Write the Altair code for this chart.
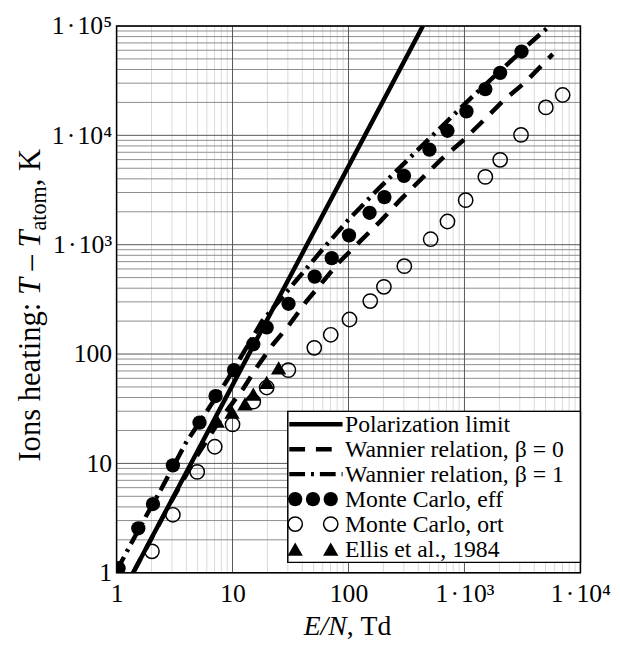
import altair as alt
import pandas as pd

# ------------------------------------------------------------------
# Values
# ------------------------------------------------------------------
polar_x = [1.39, 10, 100, 438]
polar_y = [1.0, 52, 5200, 100000]

wan0_x = [1.39, 3.0, 5.0, 8.0, 12.4, 16.2, 22.4, 30.1, 43, 82.6, 122, 187,
          277, 410, 627, 975, 1466, 2168, 3318, 5780]
wan0_y = [1.0, 4.6, 12.0, 26, 48.4, 75.7, 123, 179, 300, 687, 1038, 1626,
          2541, 3840, 6000, 9000, 13750, 20800, 30350, 55300]

wan1_x = [1.0, 1.26, 1.73, 2.43, 3.97, 5.87, 8.98, 18, 35.4, 59.7, 99.4, 175,
          322, 1057, 3540, 5410]
wan1_y = [1.04, 1.65, 3.07, 5.83, 15.5, 28.9, 57.5, 200, 470, 904, 1680, 3125,
          5930, 20370, 67100, 100000]

mc_eff_x = [1.04, 1.54, 2.06, 3.06, 5.19, 7.14, 10.3, 15.1, 19.7, 30.4, 51.1,
            71.7, 101, 152, 204, 301, 499, 714, 1040, 1514, 2032, 3105]
mc_eff_y = [1.1, 2.55, 4.25, 9.6, 23.6, 41.3, 71.4, 123, 175, 288, 511, 754,
            1217, 1958, 2725, 4260, 7390, 11020, 16560, 26480, 37300, 58400]

mc_ort_x = [2.02, 3.06, 4.96, 7.03, 10.0, 15.1, 19.7, 30.3, 50.7, 70.3, 102,
            154, 202, 303, 511, 714, 1024, 1514, 2032, 3074, 5035, 7030]
mc_ort_y = [1.57, 3.39, 8.36, 14.2, 22.7, 36.7, 49.4, 71.3, 114, 150, 207, 305,
            412, 636, 1122, 1629, 2552, 4170, 5975, 10090, 17990, 23390]

ellis_x = [7.38, 9.9, 12.8, 15.1, 19.7, 25.0]
ellis_y = [24.3, 29.4, 35.0, 42.9, 55.2, 74.9]

HS = "\u200a"  # hair space around the multiplication dot
x_ticks = [1, 10, 100, 1000, 10000]
x_tick_labels = ["1", "10", "100", f"1{HS}·{HS}10³", f"1{HS}·{HS}10⁴"]
y_ticks = [1, 10, 100, 1000, 10000, 100000]
y_tick_labels = ["1", "10", "100", f"1{HS}·{HS}10³", f"1{HS}·{HS}10⁴", f"1{HS}·{HS}10⁵"]

legend_labels = ["Polarization limit", "Wannier relation, β = 0",
                 "Wannier relation, β = 1", "Monte Carlo, eff",
                 "Monte Carlo, ort", "Ellis et al., 1984"]

# ------------------------------------------------------------------
LEFT, TOP = 110, 14            # padding -> plot origin on page at (118, 22)
OX, OY = 8 + LEFT, 8 + TOP
W, H = 470, 554
FONT = "Liberation Serif"
LABEL_FS = 26
YTITLE_FS = 31
XTITLE_FS = 28
LEG_FS = 24
LW = 4.5
DASH = [16, 11]
DASHDOT = [16, 6, 3, 6]
CIRCLE_SIZE = 210
TRI_SIZE = 240

xs = alt.Scale(type="log", domain=[1, 10000], nice=False)
ys = alt.Scale(type="log", domain=[1, 100000], nice=False)


def label_expr(vals, labs):
    return "".join(f"datum.value == {v} ? '{l}' : " for v, l in zip(vals, labs)) + "''"


xaxis = alt.Axis(values=x_ticks, labelExpr=label_expr(x_ticks, x_tick_labels),
                 grid=False, ticks=False, domain=False, title=None,
                 labelFont=FONT, labelFontSize=LABEL_FS, labelColor="black",
                 labelPadding=8, labelFlush=False, labelOverlap=False)
yaxis = alt.Axis(values=y_ticks, labelExpr=label_expr(y_ticks, y_tick_labels),
                 grid=False, ticks=False, domain=False, title=None,
                 labelFont=FONT, labelFontSize=LABEL_FS, labelColor="black",
                 labelPadding=5, labelFlush=False, labelOverlap=False)

X = lambda f: alt.X(f"{f}:Q", scale=xs, axis=xaxis)
Y = lambda f: alt.Y(f"{f}:Q", scale=ys, axis=yaxis)

# grid positions
x_major = x_ticks
x_minor = [k * 10 ** d for d in range(0, 4) for k in range(2, 10)]
y_major = y_ticks
y_minor = [k * 10 ** d for d in range(0, 5) for k in range(2, 10)]

layers = []
layers.append(alt.Chart(pd.DataFrame({"v": x_minor})).mark_rule(
    color="#d9d9d9", strokeWidth=1).encode(x=X("v")))
layers.append(alt.Chart(pd.DataFrame({"v": y_minor})).mark_rule(
    color="#8c8c8c", strokeWidth=1).encode(y=Y("v")))
layers.append(alt.Chart(pd.DataFrame({"v": x_major})).mark_rule(
    color="#555555", strokeWidth=1).encode(x=X("v")))
layers.append(alt.Chart(pd.DataFrame({"v": y_major})).mark_rule(
    color="#555555", strokeWidth=1).encode(y=Y("v")))

dummy = pd.DataFrame({"a": [0]})
layers.append(alt.Chart(dummy).mark_rect(fill=None, stroke="black", strokeWidth=1.5).encode(
    x=alt.value(0), x2=alt.value(W), y=alt.value(0), y2=alt.value(H)))


def line(xv, yv, dash=None):
    kw = dict(color="black", strokeWidth=LW, clip=True)
    if dash:
        kw["strokeDash"] = dash
    return alt.Chart(pd.DataFrame({"x": xv, "y": yv})).mark_line(**kw).encode(
        x=X("x"), y=Y("y"), order=alt.Order("x:Q"))


layers.append(line(polar_x, polar_y))
layers.append(line(wan0_x, wan0_y, DASH))
layers.append(line(wan1_x, wan1_y, DASHDOT))

layers.append(alt.Chart(pd.DataFrame({"x": mc_ort_x, "y": mc_ort_y})).mark_point(
    shape="circle", filled=False, color="black", size=CIRCLE_SIZE, strokeWidth=1.5,
    clip=True, opacity=1).encode(x=X("x"), y=Y("y")))
layers.append(alt.Chart(pd.DataFrame({"x": ellis_x, "y": ellis_y})).mark_point(
    shape="triangle-up", filled=True, color="black", size=TRI_SIZE,
    clip=True, opacity=1).encode(x=X("x"), y=Y("y")))
layers.append(alt.Chart(pd.DataFrame({"x": mc_eff_x, "y": mc_eff_y})).mark_point(
    shape="circle", filled=True, color="black", size=CIRCLE_SIZE,
    clip=True, opacity=1).encode(x=X("x"), y=Y("y")))

# ---------------- legend (drawn by hand, page coords -> plot coords) ----------------
LX0, LX1, LY0, LY1 = 291.5 - OX, W, 412.5 - OY, 565.5 - OY
ROW0, ROWSTEP = 425.5 - OY, 25.3
SX0, SX1 = 293 - OX, 347 - OX
TX = 349.5 - OX
rows = [ROW0 + ROWSTEP * i for i in range(6)]

layers.append(alt.Chart(dummy).mark_rect(fill="white", stroke="black", strokeWidth=1.5).encode(
    x=alt.value(LX0), x2=alt.value(LX1), y=alt.value(LY0), y2=alt.value(LY1)))
for i, dash in enumerate([None, DASH, DASHDOT]):
    kw = dict(color="black", strokeWidth=LW)
    if dash:
        kw["strokeDash"] = dash
    layers.append(alt.Chart(dummy).mark_rule(**kw).encode(
        x=alt.value(SX0), x2=alt.value(SX1), y=alt.value(rows[i])))
sym_specs = [
    (3, [299, 317, 335], dict(shape="circle", filled=True, size=CIRCLE_SIZE)),
    (4, [299, 335], dict(shape="circle", filled=False, size=CIRCLE_SIZE, strokeWidth=1.5)),
    (5, [299, 335], dict(shape="triangle-up", filled=True, size=TRI_SIZE)),
]
for r, xsym, kw in sym_specs:
    for xv in xsym:
        layers.append(alt.Chart(dummy).mark_point(color="black", opacity=1, **kw).encode(
            x=alt.value(xv - OX), y=alt.value(rows[r])))
for i, lab in enumerate(legend_labels):
    layers.append(alt.Chart(dummy).mark_text(
        text=lab, align="left", baseline="middle", font=FONT, fontSize=LEG_FS,
        color="black").encode(x=alt.value(TX), y=alt.value(rows[i] + 1)))

# ---------------- axis titles (mixed styles) ----------------
# Liberation Serif is metric-compatible with Times: advance widths per 1000 em
REG = {" ": 250, "I": 333, "o": 500, "n": 500, "s": 389, "h": 500,
       "e": 444, "a": 444, "t": 278, "i": 278, "g": 500, ":": 278, "–": 500,
       "m": 778, ",": 250, "K": 722, "T": 611, "d": 500}
ITA = {"T": 556, "E": 611, "N": 667, "/": 278}


def width(s, fs, table):
    return sum(table[c] for c in s) / 1000 * fs


SUB = 0.72
# (text, style, size factor, baseline shift, space before in em)
pieces = [("Ions heating:", "normal", 1.0, 0, 0), ("T", "italic", 1.0, 0, 0.25),
          ("–", "normal", 1.0, 0, 0.25), ("T", "italic", 1.0, 0, 0.25),
          ("atom", "normal", SUB, 0.22, 0), (",", "normal", 1.0, 0, 0),
          ("K", "normal", 1.0, 0, 0.25)]


def pw(p, st, sc):
    return width(p, YTITLE_FS * sc, ITA if st == "italic" else REG)


total = sum(pw(p, st, sc) + gap * YTITLE_FS for p, st, sc, _, gap in pieces)
YT_BASE_X = 40 - OX
YT_CENTER = 305 - OY
ycur = YT_CENTER + total / 2
for p, st, sc, sh, gap in pieces:
    ycur -= gap * YTITLE_FS
    layers.append(alt.Chart(dummy).mark_text(
        text=p, angle=270, align="left", baseline="alphabetic", font=FONT,
        fontSize=YTITLE_FS * sc, fontStyle=st, color="black").encode(
        x=alt.value(YT_BASE_X + sh * YTITLE_FS), y=alt.value(ycur)))
    ycur -= pw(p, st, sc)

# x title: italic "E/N" followed by ", Td"
xp = [("E/N", "italic", 0), (",", "normal", 0), ("Td", "normal", 0.25)]
xtotal = sum(width(p, XTITLE_FS, ITA if st == "italic" else REG) + g * XTITLE_FS
             for p, st, g in xp)
xcur = 352 - OX - xtotal / 2
for p, st, g in xp:
    xcur += g * XTITLE_FS
    layers.append(alt.Chart(dummy).mark_text(
        text=p, align="left", baseline="alphabetic", font=FONT, fontSize=XTITLE_FS,
        fontStyle=st, color="black").encode(x=alt.value(xcur), y=alt.value(639 - OY)))
    xcur += width(p, XTITLE_FS, ITA if st == "italic" else REG)

chart = alt.layer(*layers).properties(
    width=W, height=H,
    padding={"left": LEFT, "top": TOP, "right": 32, "bottom": 70},
    autosize=alt.AutoSizeParams(type="none"),
).configure_view(stroke=None).configure(background="white")

chart.save("out.html", embed_options={"renderer": "svg", "actions": False})
